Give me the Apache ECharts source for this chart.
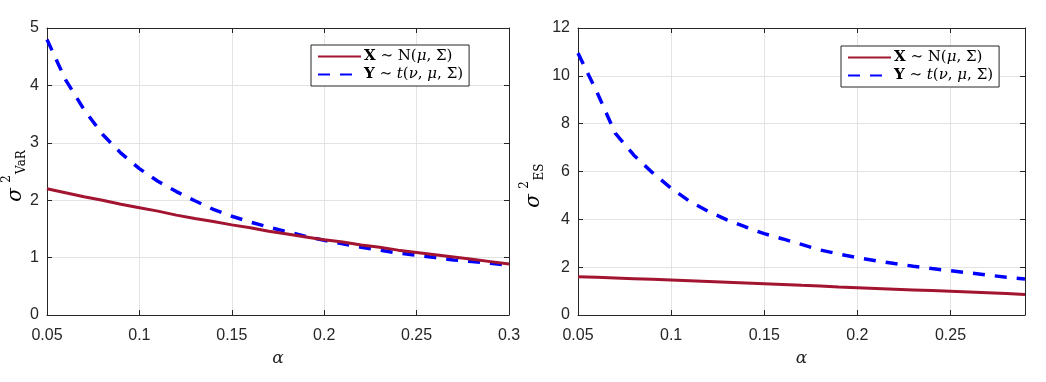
<!DOCTYPE html>
<html>
<head>
<meta charset="utf-8">
<script src="https://cdn.jsdelivr.net/npm/echarts@6/dist/echarts.min.js"></script>
<style>html,body{margin:0;padding:0;background:#fff}#c{width:1046px;height:382px}</style>
</head>
<body>
<div id="c"></div>
<script>
// alpha grid for the VaR panel and the ES panel
const alphaVaR = [0.05,0.06,0.07,0.08,0.09,0.10,0.11,0.12,0.13,0.14,0.15,0.16,0.17,0.18,0.19,0.20,0.21,0.22,0.23,0.24,0.25,0.26,0.27,0.28,0.29,0.30];
const alphaES  = [0.05,0.06,0.07,0.08,0.09,0.10,0.11,0.12,0.13,0.14,0.15,0.16,0.17,0.18,0.19,0.20,0.21,0.22,0.23,0.24,0.25,0.26,0.27,0.28,0.29];

// sigma^2_VaR
const varNormal = [2.20,2.13,2.06,2.00,1.93,1.87,1.81,1.74,1.68,1.63,1.57,1.52,1.46,1.41,1.36,1.31,1.27,1.22,1.18,1.13,1.09,1.05,1.01,0.97,0.93,0.89];
const varT      = [4.80,4.10,3.58,3.15,2.82,2.55,2.33,2.15,1.99,1.84,1.72,1.62,1.53,1.45,1.37,1.30,1.24,1.18,1.13,1.08,1.04,1.00,0.96,0.93,0.90,0.87];

// sigma^2_ES
const esNormal = [1.60,1.58,1.55,1.52,1.49,1.46,1.43,1.40,1.37,1.34,1.31,1.28,1.24,1.21,1.17,1.14,1.11,1.08,1.05,1.02,0.99,0.96,0.93,0.90,0.86];
const esT      = [10.95,9.35,7.60,6.68,5.95,5.30,4.75,4.33,3.98,3.68,3.40,3.18,2.95,2.72,2.55,2.40,2.27,2.15,2.04,1.94,1.85,1.76,1.67,1.58,1.51];

const xTicksVaR = {min:0.05, max:0.30, interval:0.05};
const xTicksES  = {min:0.05, max:0.29, interval:0.05};
const yTicksVaR = {min:0, max:5, interval:1};
const yTicksES  = {min:0, max:12, interval:2};

const nameX = 'X';
const nameY = 'Y';

const pair = (xs, ys) => xs.map((x, i) => [x, ys[i]]);

const AX = '#262626';
const labelFont = {color: AX, fontSize: 16, fontFamily: 'Liberation Sans, Arial, sans-serif'};

function mainX(idx, t) {
  return {
    gridIndex: idx, type: 'value', position: 'bottom',
    min: t.min, max: t.max, interval: t.interval,
    name: 'α', nameLocation: 'middle', nameGap: 35,
    nameTextStyle: {fontFamily: 'DejaVu Serif, serif', fontStyle: 'italic', fontSize: 17, color: AX},
    axisLine: {show: true, onZero: false, lineStyle: {color: AX, width: 1}},
    axisTick: {show: true, inside: true, length: 5, lineStyle: {color: AX}},
    axisLabel: Object.assign({margin: 13, showMinLabel: true, showMaxLabel: true,
      formatter: v => {
        const k = Math.round(v / 0.05);
        if (Math.abs(v - k * 0.05) > 1e-6) return '';
        return String(+v.toFixed(2));
      }}, labelFont),
    splitLine: {show: true, lineStyle: {color: '#e3e3e3', width: 1}}
  };
}
function topX(idx, t) {
  return {
    gridIndex: idx, type: 'value', position: 'top',
    min: t.min, max: t.max, interval: t.interval,
    axisLine: {show: true, onZero: false, lineStyle: {color: AX, width: 1}},
    axisTick: {show: true, inside: true, length: 5, lineStyle: {color: AX}},
    axisLabel: {show: false}, splitLine: {show: false}
  };
}
function mainY(idx, t) {
  return {
    gridIndex: idx, type: 'value', position: 'left',
    min: t.min, max: t.max, interval: t.interval,
    axisLine: {show: true, onZero: false, lineStyle: {color: AX, width: 1}},
    axisTick: {show: true, inside: true, length: 5, lineStyle: {color: AX}},
    axisLabel: Object.assign({margin: 8}, labelFont),
    splitLine: {show: true, lineStyle: {color: '#e3e3e3', width: 1}}
  };
}
function rightY(idx, t) {
  return {
    gridIndex: idx, type: 'value', position: 'right',
    min: t.min, max: t.max, interval: t.interval,
    axisLine: {show: true, onZero: false, lineStyle: {color: AX, width: 1}},
    axisTick: {show: true, inside: true, length: 5, lineStyle: {color: AX}},
    axisLabel: {show: false}, splitLine: {show: false}
  };
}

const richLegend = {
  b: {fontFamily: 'DejaVu Serif, serif', fontWeight: 'bold', fontSize: 15, color: '#000'},
  n: {fontFamily: 'DejaVu Serif, serif', fontSize: 15, color: '#000'},
  i: {fontFamily: 'DejaVu Serif, serif', fontStyle: 'italic', fontSize: 15, color: '#000'}
};
const legendFmt = name => name === nameX
  ? '{b|X}{n| ∼ N(}{i|μ}{n|, Σ)}'
  : '{b|Y}{n| ∼ }{i|t}{n|(}{i|ν}{n|, }{i|μ}{n|, Σ)}';

function legend(left, top) {
  return {
    left: left, top: top, orient: 'vertical', data: [nameX, nameY],
    itemWidth: 43, itemHeight: 14, itemGap: 3,
    padding: [4, 6, 4, 6],
    backgroundColor: '#fff', borderColor: AX, borderWidth: 1,
    formatter: legendFmt, selectedMode: false,
    itemStyle: {opacity: 0, borderWidth: 0},
    textStyle: {rich: richLegend, padding: [0, 0, 0, -2]}
  };
}

const redStyle = {color: '#A2142F', width: 3};
const blueStyle = {color: '#0000FF', width: 3.5, type: [12, 10]};

function yName(x, y, sub, subX) {
  return {
    type: 'group', x: x, y: y, rotation: Math.PI / 2,
    children: [
      {type: 'text', x: -23, y: 3, style: {text: 'σ', fontFamily: 'DejaVu Serif, serif', fontStyle: 'italic', fontSize: 20, fill: '#000', align: 'center', verticalAlign: 'middle'}},
      {type: 'text', x: -7, y: -6, style: {text: '2', fontFamily: 'DejaVu Serif, serif', fontSize: 12, fill: '#000', align: 'center', verticalAlign: 'middle'}},
      {type: 'text', x: subX, y: 9, style: {text: sub, fontFamily: 'DejaVu Serif, serif', fontSize: 12, fill: '#000', align: 'center', verticalAlign: 'middle'}}
    ]
  };
}

const chart = echarts.init(document.getElementById('c'), null, {renderer: 'canvas'});
chart.setOption({
  animation: false,
  backgroundColor: '#fff',
  grid: [
    {left: 47, top: 28, width: 462, height: 287, containLabel: false},
    {left: 578, top: 28, width: 447, height: 287, containLabel: false}
  ],
  xAxis: [mainX(0, xTicksVaR), mainX(1, xTicksES), topX(0, xTicksVaR), topX(1, xTicksES)],
  yAxis: [mainY(0, yTicksVaR), mainY(1, yTicksES), rightY(0, yTicksVaR), rightY(1, yTicksES)],
  legend: [legend(311, 45), legend(841, 46)],
  graphic: [yName(13, 172, 'VaR', 10), yName(531, 178, 'ES', 6)],
  series: [
    {name: nameX, type: 'line', xAxisIndex: 0, yAxisIndex: 0, data: pair(alphaVaR, varNormal), showSymbol: false, symbol: 'none', lineStyle: redStyle, itemStyle: {color: '#A2142F'}, z: 3},
    {name: nameY, type: 'line', xAxisIndex: 0, yAxisIndex: 0, data: pair(alphaVaR, varT), showSymbol: false, symbol: 'none', lineStyle: blueStyle, itemStyle: {color: '#0000FF'}, z: 2},
    {name: nameX, type: 'line', xAxisIndex: 1, yAxisIndex: 1, data: pair(alphaES, esNormal), showSymbol: false, symbol: 'none', lineStyle: redStyle, itemStyle: {color: '#A2142F'}, z: 3},
    {name: nameY, type: 'line', xAxisIndex: 1, yAxisIndex: 1, data: pair(alphaES, esT), showSymbol: false, symbol: 'none', lineStyle: blueStyle, itemStyle: {color: '#0000FF'}, z: 2}
  ]
});
</script>
</body>
</html>
